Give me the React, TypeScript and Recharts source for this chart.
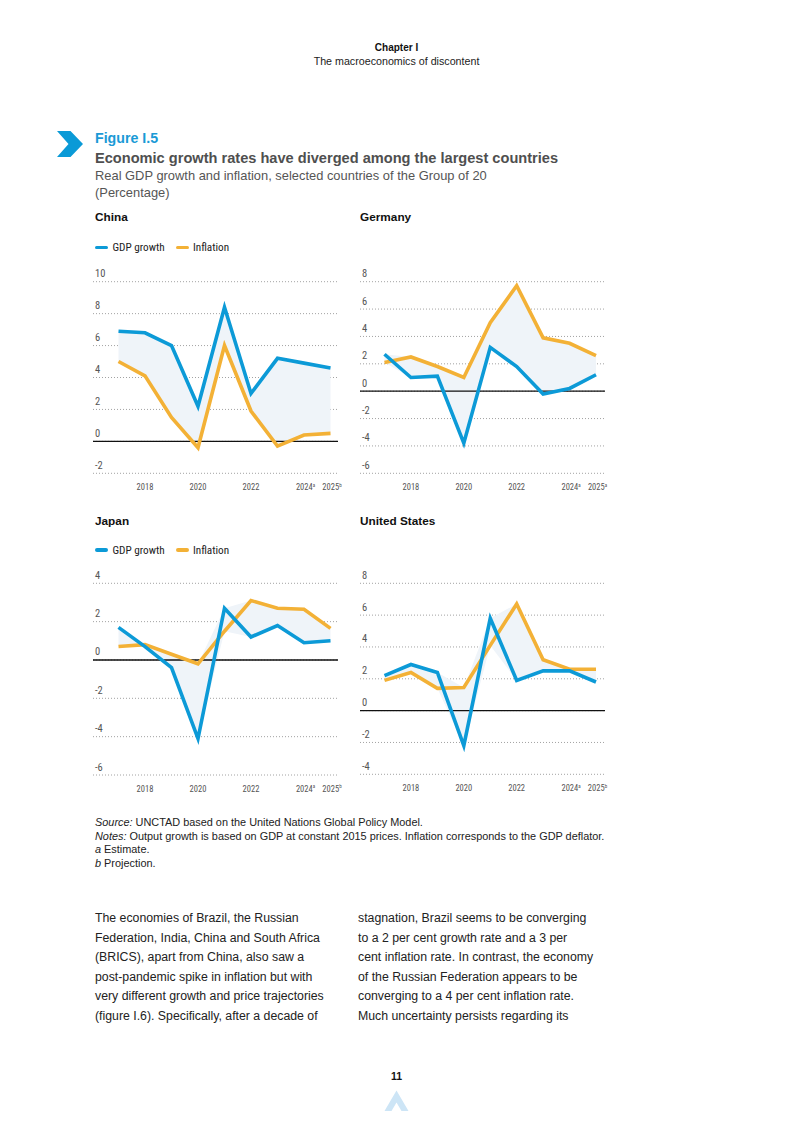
import React from "react";
import {
  ComposedChart,
  Line,
  Area,
  XAxis,
  YAxis,
  CartesianGrid,
  ReferenceLine,
} from "recharts";

// ---------- data ----------
const years = [2017, 2018, 2019, 2020, 2021, 2022, 2023, 2024, 2025];
const xTicks = [2018, 2020, 2022, 2024, 2025];

const chinaGdp = [6.9, 6.8, 6.0, 2.2, 8.4, 3.0, 5.2, 4.9, 4.6];
const chinaInfl = [5.0, 4.1, 1.5, -0.4, 6.0, 1.9, -0.3, 0.4, 0.5];

const germanyGdp = [2.7, 1.0, 1.1, -3.8, 3.2, 1.8, -0.2, 0.2, 1.2];
const germanyInfl = [2.1, 2.5, 1.8, 1.0, 5.0, 7.7, 3.9, 3.5, 2.6];

const japanGdp = [1.7, 0.7, -0.4, -4.1, 2.7, 1.2, 1.8, 0.9, 1.0];
const japanInfl = [0.7, 0.8, 0.3, -0.2, 1.5, 3.1, 2.7, 2.65, 1.65];

const usGdp = [2.2, 2.9, 2.4, -2.2, 5.8, 1.9, 2.5, 2.5, 1.8];
const usInfl = [1.9, 2.4, 1.4, 1.45, 4.1, 6.7, 3.2, 2.6, 2.6];

const chinaTicks = [-2, 0, 2, 4, 6, 8, 10];
const germanyTicks = [-6, -4, -2, 0, 2, 4, 6, 8];
const japanTicks = [-6, -4, -2, 0, 2, 4];
const usTicks = [-4, -2, 0, 2, 4, 6, 8];

const chinaSup = ["a", "b"];
const germanySup = ["a", "a"];
const japanSup = ["a", "b"];
const usSup = ["a", "b"];

const seriesNames = ["GDP growth", "Inflation"];

// ---------- styles ----------
const BLUE = "#0c9ad7";
const YELLOW = "#f3b136";
const FILL = "#eff4f9";
const SANS = "'Liberation Sans', Arial, Helvetica, sans-serif";
const NARROW = "'Liberation Sans Narrow', 'Roboto Condensed', 'Liberation Sans', Arial, sans-serif";

function buildRows(gdp: number[], infl: number[]) {
  return years.map((year, i) => ({
    year,
    gdp: gdp[i],
    infl: infl[i],
    band: [Math.min(gdp[i], infl[i]), Math.max(gdp[i], infl[i])],
  }));
}

type PanelProps = {
  left: number;
  top: number;
  width: number;
  height: number;
  mTop: number;
  mLeft: number;
  mRight: number;
  xHeight: number;
  padL: number;
  padR: number;
  gdp: number[];
  infl: number[];
  yTicks: number[];
  sup: string[];
};

function Panel(p: PanelProps) {
  const rows = buildRows(p.gdp, p.infl);
  const plotLeft = p.mLeft + 1;
  const YTick = (props: any) => {
    const { y, payload } = props;
    return (
      <text
        x={plotLeft + 2}
        y={y - 4.5}
        textAnchor="start"
        fontSize={10.5}
        fill="#555"
        fontFamily={NARROW}
      >
        {payload.value}
      </text>
    );
  };
  const XTick = (props: any) => {
    const { x, y, payload } = props;
    const v = payload.value;
    const supText = v === 2024 ? p.sup[0] : v === 2025 ? p.sup[1] : null;
    return (
      <text
        x={supText ? x + 1.5 : x}
        y={y + 16.7}
        textAnchor="middle"
        fontSize={8.5}
        fill="#555"
        fontFamily={NARROW}
      >
        {v}
        {supText ? (
          <tspan fontSize={5} dy={-3.5}>
            {supText}
          </tspan>
        ) : null}
      </text>
    );
  };
  return (
    <div style={{ position: "absolute", left: p.left, top: p.top }}>
      <ComposedChart
        width={p.width}
        height={p.height}
        data={rows}
        margin={{ top: p.mTop, right: p.mRight, bottom: 0, left: p.mLeft }}
      >
        <CartesianGrid
          horizontal={true}
          vertical={false}
          stroke="#8a8a8a"
          strokeWidth={0.8}
          strokeDasharray="1 2"
        />
        <XAxis
          dataKey="year"
          type="number"
          domain={[2017, 2025]}
          ticks={xTicks}
          interval={0}
          padding={{ left: p.padL, right: p.padR }}
          axisLine={false}
          tickLine={false}
          tickSize={0}
          tickMargin={0}
          height={p.xHeight}
          tick={<XTick />}
        />
        <YAxis
          type="number"
          domain={[p.yTicks[0], p.yTicks[p.yTicks.length - 1]]}
          ticks={p.yTicks}
          interval={0}
          width={1}
          axisLine={false}
          tickLine={false}
          tickSize={0}
          tickMargin={0}
          tick={<YTick />}
        />
        <Area
          type="linear"
          dataKey="band"
          fill={FILL}
          fillOpacity={1}
          stroke="none"
          isAnimationActive={false}
          activeDot={false}
        />
        <ReferenceLine y={0} stroke="#111" strokeWidth={1.3} />
        <Line
          type="linear"
          dataKey="infl"
          stroke={YELLOW}
          strokeWidth={3.6}
          dot={false}
          activeDot={false}
          isAnimationActive={false}
        />
        <Line
          type="linear"
          dataKey="gdp"
          stroke={BLUE}
          strokeWidth={3.6}
          dot={false}
          activeDot={false}
          isAnimationActive={false}
        />
      </ComposedChart>
    </div>
  );
}

function Legend({ left, top }: { left: number; top: number }) {
  const item = (color: string, label: string, x: number) => (
    <div
      style={{
        position: "absolute",
        left: x,
        top: 0,
        display: "flex",
        alignItems: "center",
        height: 14,
      }}
    >
      <div
        style={{
          width: 13,
          height: 3.5,
          borderRadius: 2,
          background: color,
          marginRight: 4.5,
        }}
      />
      <span style={{ fontFamily: NARROW, fontSize: 11.2, color: "#222", whiteSpace: "nowrap" }}>
        {label}
      </span>
    </div>
  );
  return (
    <div style={{ position: "absolute", left, top, width: 200, height: 14 }}>
      {item(BLUE, seriesNames[0], 0)}
      {item(YELLOW, seriesNames[1], 80.5)}
    </div>
  );
}

const abs = (left: number, top: number, extra: React.CSSProperties = {}): React.CSSProperties => ({
  position: "absolute",
  left,
  top,
  whiteSpace: "nowrap",
  fontFamily: SANS,
  ...extra,
});

export default function App() {
  const leftCol = ["The economies of Brazil, the Russian", "Federation, India, China and South Africa", "(BRICS), apart from China, also saw a", "post-pandemic spike in inflation but with", "very different growth and price trajectories", "(figure I.6). Specifically, after a decade of"];
  const rightCol = ["stagnation, Brazil seems to be converging", "to a 2 per cent growth rate and a 3 per", "cent inflation rate. In contrast, the economy", "of the Russian Federation appears to be", "converging to a 4 per cent inflation rate.", "Much uncertainty persists regarding its"];
  return (
    <div
      style={{
        position: "absolute",
        left: 0,
        top: 0,
        width: 793,
        height: 1121,
        background: "#fff",
        fontFamily: SANS,
        overflow: "hidden",
      }}
    >
      {/* header */}
      <div style={abs(0, 42, { width: 793, textAlign: "center", fontSize: 10, fontWeight: 700, lineHeight: "12px", color: "#111" })}>
        Chapter I
      </div>
      <div style={abs(0, 55, { width: 793, textAlign: "center", fontSize: 10.7, lineHeight: "12px", color: "#222" })}>
        The macroeconomics of discontent
      </div>

      {/* figure chevron */}
      <svg style={{ position: "absolute", left: 0, top: 0 }} width={100} height={170}>
        <polygon points="57,131 70.5,131 83,144 70.5,157 57,157 68.5,144" fill="#0a9ad7" />
      </svg>

      <div style={abs(95, 129.5, { fontSize: 14.2, fontWeight: 700, color: "#1a9ad6", lineHeight: "17px" })}>Figure I.5</div>
      <div style={abs(95, 149.5, { fontSize: 14.6, fontWeight: 700, color: "#4f4f4f", lineHeight: "17px" })}>
        Economic growth rates have diverged among the largest countries
      </div>
      <div style={abs(95, 168, { fontSize: 12.9, color: "#555", lineHeight: "16px" })}>
        Real GDP growth and inflation, selected countries of the Group of 20
      </div>
      <div style={abs(95, 185, { fontSize: 12.9, color: "#555", lineHeight: "16px" })}>(Percentage)</div>

      {/* panel titles */}
      <div style={abs(95, 209.5, { fontSize: 11.8, fontWeight: 700, color: "#111", lineHeight: "14px" })}>China</div>
      <div style={abs(360, 209.5, { fontSize: 11.8, fontWeight: 700, color: "#111", lineHeight: "14px" })}>Germany</div>
      <div style={abs(95, 513.5, { fontSize: 11.8, fontWeight: 700, color: "#111", lineHeight: "14px" })}>Japan</div>
      <div style={abs(360, 513.5, { fontSize: 11.8, fontWeight: 700, color: "#111", lineHeight: "14px" })}>United States</div>

      <Legend left={95} top={240.5} />
      <Legend left={95} top={543} />

      <Panel left={85} top={262} width={260} height={240} mTop={19.7} mLeft={7} mRight={7} xHeight={28.7} padL={25.5} padR={7.5} gdp={chinaGdp} infl={chinaInfl} yTicks={chinaTicks} sup={chinaSup} />
      <Panel left={352} top={262} width={260} height={240} mTop={19.7} mLeft={7} mRight={7} xHeight={28.7} padL={24.5} padR={9} gdp={germanyGdp} infl={germanyInfl} yTicks={germanyTicks} sup={germanySup} />
      <Panel left={85} top={564} width={260} height={240} mTop={19.3} mLeft={7} mRight={7} xHeight={29} padL={25.5} padR={7.5} gdp={japanGdp} infl={japanInfl} yTicks={japanTicks} sup={japanSup} />
      <Panel left={352} top={564} width={260} height={240} mTop={19.3} mLeft={7} mRight={7} xHeight={29.7} padL={24.5} padR={9} gdp={usGdp} infl={usInfl} yTicks={usTicks} sup={usSup} />

      {/* notes */}
      <div style={abs(95, 816, { fontSize: 10.9, color: "#222", lineHeight: "13.7px" })}>
        <div><i>Source:</i> UNCTAD based on the United Nations Global Policy Model.</div>
        <div><i>Notes:</i> Output growth is based on GDP at constant 2015 prices. Inflation corresponds to the GDP deflator.</div>
        <div><i>a</i> Estimate.</div>
        <div><i>b</i> Projection.</div>
      </div>

      {/* body text */}
      <div style={abs(95, 909, { fontSize: 12.3, color: "#222", lineHeight: "19.5px" })}>
        {leftCol.map((t, i) => (
          <div key={i}>{t}</div>
        ))}
      </div>
      <div style={abs(358, 909, { fontSize: 12.3, color: "#222", lineHeight: "19.5px" })}>
        {rightCol.map((t, i) => (
          <div key={i}>{t}</div>
        ))}
      </div>

      {/* page number */}
      <div style={abs(0, 1070, { width: 793, textAlign: "center", fontSize: 10.5, fontWeight: 700, color: "#111", lineHeight: "12px" })}>11</div>
      <svg style={{ position: "absolute", left: 370, top: 1085 }} width={50} height={30}>
        <polygon points="26.5,5.5 38.5,26 31.5,26 26.5,17.5 21.5,26 14.5,26" fill="#cde5f6" />
      </svg>
    </div>
  );
}
